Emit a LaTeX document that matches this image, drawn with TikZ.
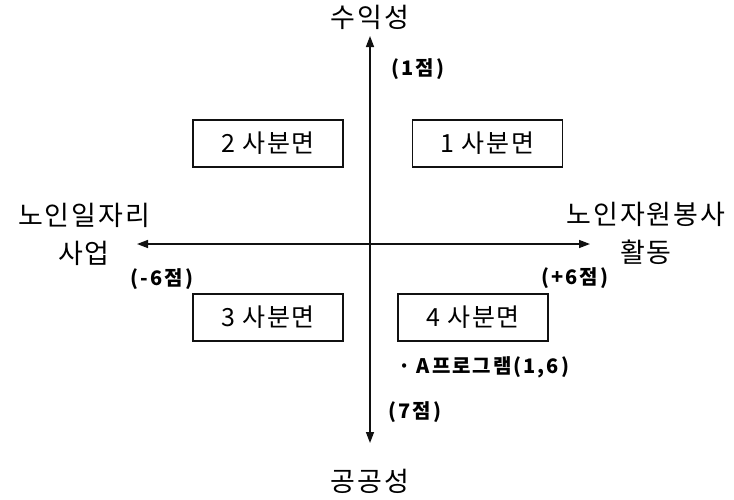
\documentclass[tikz,border=0pt]{standalone}
\usepackage{fontspec}
\setmainfont{Noto Sans CJK KR}
\newfontfamily\widekr[LetterSpace=7]{Noto Sans CJK KR}
\newfontfamily\widerkr[LetterSpace=10]{Noto Sans CJK KR}
\usetikzlibrary{arrows.meta, positioning}
\definecolor{cink}{HTML}{111111}
\tikzset{
  every picture/.style={line width=1.4pt, x=1pt, y=-1pt},
  quad/.style={draw=cink, line width=1.2pt, minimum width=150pt, minimum height=47pt, inner sep=0pt, font=\widekr\fontsize{25}{28}\selectfont},
  axis/.style={{Triangle[length=11pt, width=8pt]}-{Triangle[length=11pt, width=8pt]}, draw=cink},
  pole/.style={font=\widekr\fontsize{27}{38}\selectfont, align=center, inner sep=0pt},
  score/.style={font=\widerkr\fontsize{20}{22}\selectfont\bfseries, inner sep=0pt},
}

\begin{document}
\begin{tikzpicture}
  \useasboundingbox (0,0) rectangle (734,499);
  % axes
  \coordinate (ntip) at (370,36);
  \coordinate (stip) at (370,443);
  \coordinate (wtip) at (137,244);
  \coordinate (etip) at (590,244);
  \draw[axis] (stip) -- (ntip);
  \draw[axis] (wtip) -- (etip);
  % poles
  \node[pole] (profit) at (370,17) {수익성};
  \node[pole] (public) at (370,481) {공공성};
  \node[pole] (jobs) at (84,234) {노인일자리\\사업};
  \node[pole] (volunteer) at (646,233) {노인자원봉사\\활동};
  \node[score] (s1) at (418,69) {(1점)};
  \node[score] (s7) at (415,412) {(7점)};
  \node[score] (sm6) at (162,279) {(-6점)};
  \node[score] (sp6) at (575,278) {(+6점)};
  % quadrants
  \node[quad] (q2) at (268,143.5) {2 사분면};
  \node[quad] (q1) at (487.5,143.5) {1 사분면};
  \node[quad] (q3) at (268,317.5) {3 사분면};
  \node[quad] (q4) at (473,317.5) {4 사분면};
  \node[score, anchor=west] (prog) at (398,367) {·\hspace{6pt}A프로그램(1,6)};
\end{tikzpicture}
\end{document}
